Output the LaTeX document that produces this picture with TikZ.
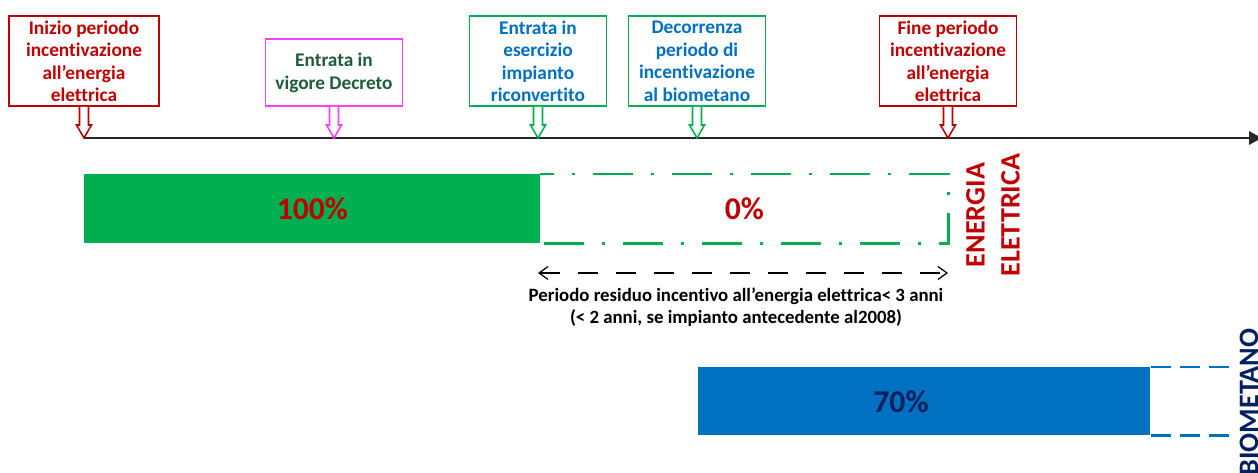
\documentclass[tikz,border=0pt]{standalone}
\usepackage{fontspec}
\setmainfont[Ligatures=NoCommon]{Carlito}
\usetikzlibrary{arrows.meta,calc,positioning}

\definecolor{elred}{HTML}{C00000}
\definecolor{decpink}{HTML}{FF40FF}
\definecolor{decgreen}{HTML}{1F5C3B}
\definecolor{plgreen}{HTML}{00B050}
\definecolor{bmblue}{HTML}{0070C0}
\definecolor{bmnavy}{HTML}{002060}
\definecolor{axis}{HTML}{262626}

% arrow from an event box down to the time line
\newcommand{\pointer}[2]{%
    \draw[draw=#2, line width=0.9pt, fill=white]
        ($(#1.south)+(-4.5,0)$) -- ++(0,18) -- ++(-3,0) -- ++(7.5,13)
        -- ++(7.5,-13) -- ++(-3,0) -- ++(0,-18);
}

\begin{document}
\begin{tikzpicture}[x=0.2mm, y=-0.2mm]
    \tikzstyle{event}=[
        draw,
        line width = 0.9pt,
        fill = white,
        align = center,
        inner sep = 1pt,
        anchor = south,
        minimum width = 27.4mm,
        minimum height = 18mm,
        font = \bfseries\fontsize{11}{12.8}\selectfont
    ]
    \tikzstyle{bar}=[
        anchor = north west,
        inner sep = 0pt,
        minimum height = 13.8mm,
        font = \bfseries\fontsize{18}{20}\selectfont
    ]
    \tikzstyle{vlabel}=[
        rotate = 90,
        align = center,
        inner sep = 0pt,
        font = \bfseries\fontsize{16}{19.8}\selectfont
    ]

    \useasboundingbox (0,0) rectangle (1258,473);

    % time line
    \coordinate (t0) at (84,138);
    \coordinate (t1) at (1262,138);
    \draw[axis, line width=1.7pt, -{Triangle[length=2.6mm, width=2.6mm]}] (t0) -- (t1);

    % events
    \node[event, draw=elred, text=elred, minimum width=30mm] (inizio)  at (84,107)  {Inizio periodo\\incentivazione\\all’energia\\elettrica};
    \node[event, draw=decpink, text=decgreen, minimum height=13.4mm]
                                                   (decreto) at (334,107) {Entrata in\\vigore Decreto};
    \node[event, draw=plgreen, text=bmblue]       (esercizio) at (538,107) {Entrata in\\esercizio\\impianto\\riconvertito};
    \node[event, draw=plgreen, text=bmblue]       (decorr)  at (697,107) {Decorrenza\\periodo di\\incentivazione\\al biometano};
    \node[event, draw=elred, text=elred]          (fine)    at (948,107) {Fine periodo\\incentivazione\\all’energia\\elettrica};

    \pointer{inizio}{elred}
    \pointer{decreto}{decpink}
    \pointer{esercizio}{plgreen}
    \pointer{decorr}{plgreen}
    \pointer{fine}{elred}

    % energia elettrica
    \node[bar, fill=plgreen, text=elred, minimum width=91.2mm] (eefull) at (84,174)  {100\%};
    \node[bar, text=elred, minimum width=81.6mm]               (eezero) at (540,174) {0\%};
    \draw[plgreen, line width=1.7pt, dash pattern=on 8mm off 3.6mm on 0.6mm off 3.6mm, dash phase=5.2mm]
        (eezero.north west) -- (eezero.north east) -- (eezero.south east) -- (eezero.south west);
    \node[vlabel, text=elred] (eelabel) at (993,215) {ENERGIA\\ELETTRICA};

    \coordinate (res0) at (538,273);
    \coordinate (res1) at (948,273);
    \draw[black, line width=0.7pt, dash pattern=on 4mm off 3.6mm,
          {Straight Barb[length=1.8mm, width=2.6mm]}-{Straight Barb[length=1.8mm, width=2.6mm]}] (res0) -- (res1);
    \node[anchor=north, align=center, inner sep=0pt, font=\bfseries\fontsize{10.7}{13}\selectfont]
        (residuo) at (736,287) {Periodo residuo incentivo all’energia elettrica< 3 anni\\(< 2 anni, se impianto antecedente al2008)};

    % biometano
    \node[bar, fill=bmblue, minimum width=90.4mm, minimum height=13.6mm] (bmbar) at (698,367) {};
    \node[font=\bfseries\fontsize{18}{20}\selectfont, text=bmnavy, inner sep=0pt] (bmpct) at (901,402) {70\%};
    \draw[bmblue, line width=1.7pt, dash pattern=on 4mm off 1.8mm] (bmbar.north east) -- ++(78,0);
    \draw[bmblue, line width=1.7pt, dash pattern=on 4mm off 1.8mm] (bmbar.south east) -- ++(78,0);
    \node[vlabel, text=bmnavy] (bmlabel) at (1249,402) {BIOMETANO};

\end{tikzpicture}
\end{document}
